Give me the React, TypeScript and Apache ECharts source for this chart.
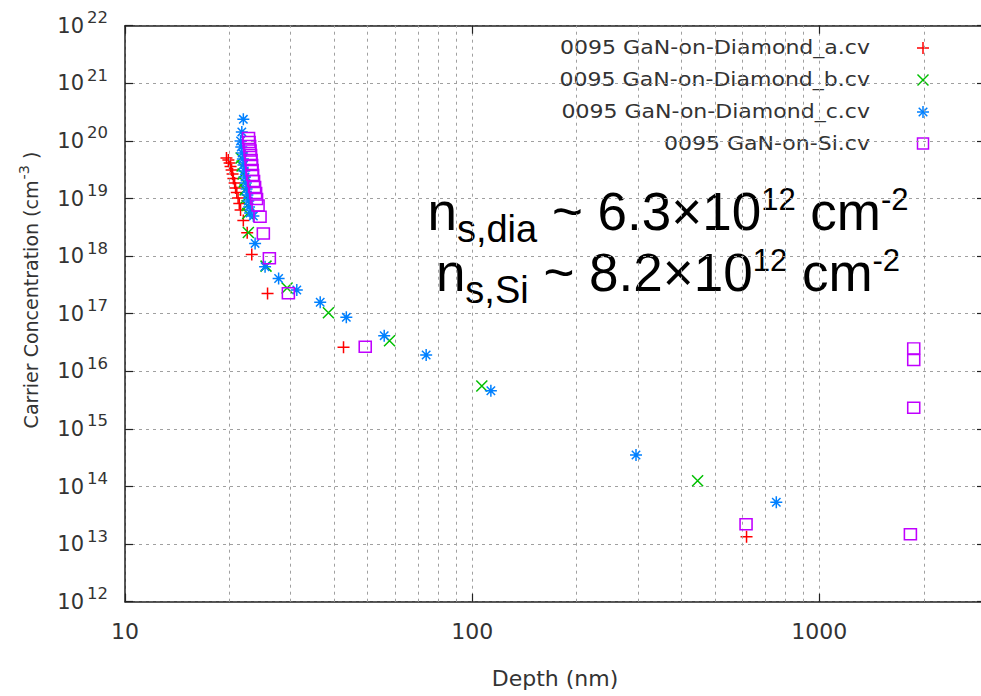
import React, { useEffect, useRef } from 'react';
import * as echarts from 'echarts';

const seriesNames = [
  '0095 GaN-on-Diamond_a.cv',
  '0095 GaN-on-Diamond_b.cv',
  '0095 GaN-on-Diamond_c.cv',
  '0095 GaN-on-Si.cv',
];
const seriesColors = ['#ff0000', '#00c000', '#0080ff', '#c000ff'];

const depthA = [19.6, 19.85, 20.01, 20.14, 20.28, 20.41, 20.52, 20.69, 20.82, 20.99, 21.17, 21.34, 21.52, 21.92, 22.49, 23.18, 25.74, 42.6, 617];
const concA = [5.05e19, 4.66e19, 4.13e19, 3.6e19, 3.13e19, 2.66e19, 2.22e19, 1.86e19, 1.52e19, 1.27e19, 1.02e19, 8.2e18, 6.3e18, 4.15e18, 2.55e18, 1.07e18, 2.24e17, 2.61e16, 1.34e13];

const depthB = [21.6, 21.74, 21.88, 22.03, 22.17, 22.32, 22.47, 22.57, 22.66, 25.48, 29.3, 38.54, 57.8, 106.6, 446];
const concB = [5.05e19, 3.67e19, 2.66e19, 1.93e19, 1.41e19, 1.02e19, 7.55e18, 5.5e18, 2.57e18, 6.7e17, 2.79e17, 1.04e17, 3.4e16, 5.56e15, 1.26e14];

const depthC = [21.92, 21.7, 21.52, 21.62, 21.74, 21.85, 21.95, 22.06, 22.17, 22.29, 22.4, 22.52, 22.65, 22.77, 22.92, 23.43, 23.7, 25.32, 27.7, 31.25, 36.5, 43.4, 55.8, 73.7, 113.2, 296.4, 751.6];
const concC = [2.37e20, 1.43e20, 9.96e19, 7.83e19, 6.17e19, 4.85e19, 3.82e19, 3.0e19, 2.36e19, 1.86e19, 1.46e19, 1.15e19, 9.06e18, 7.13e18, 5.6e18, 4.97e18, 1.66e18, 6.55e17, 4.08e17, 2.58e17, 1.58e17, 8.65e16, 4.15e16, 1.92e16, 4.6e15, 3.52e14, 5.32e13];

const depthD = [22.69, 22.77, 22.85, 22.92, 23.0, 23.08, 23.16, 23.23, 23.31, 23.46, 23.62, 23.78, 23.93, 24.17, 24.49, 25.03, 26.05, 29.55, 49.2, 615, 1870, 1870, 1870, 1829];
const concD = [1.12e20, 9.57e19, 8.15e19, 6.81e19, 5.69e19, 4.66e19, 3.82e19, 3.13e19, 2.56e19, 2.01e19, 1.58e19, 1.25e19, 9.8e18, 7.55e18, 4.83e18, 2.47e18, 9.16e17, 2.26e17, 2.67e16, 2.21e13, 2.5e16, 1.57e16, 2.33e15, 1.48e13];

const minorGridX = [20, 30, 40, 50, 60, 70, 80, 90, 200, 300, 400, 500, 600, 700, 800, 900, 2000];

const annotationLines = [
  '{n|n}{sub|s,dia}{m| ~ 6.3×10}{sup|12}{m| cm}{sup|-2}',
  '{n|n}{sub|s,Si}{m| ~ 8.2×10}{sup|12}{m| cm}{sup|-2}',
];

const SYM: Record<string, string> = {
  plus: 'path://M0,6L12,6M6,0L6,12',
  cross: 'path://M0,0L11,11M0,11L11,0',
  star: 'path://M0,6L12,6M6,0L6,12M1.8,1.8L10.2,10.2M1.8,10.2L10.2,1.8',
  square: 'path://M0,0L11,0L11,11L0,11Z',
};
const kinds = ['plus', 'cross', 'star', 'square'];
const symSizes: any[] = [12, 11, 12, [12, 11]];

const zip = (xs: number[], ys: number[]) => xs.map((x, i) => [x, ys[i]]);

const legendSegs: Record<string, number[][]> = {
  plus: [[-6, 0, 6, 0], [0, -6, 0, 6]],
  cross: [[-5.5, -5.5, 5.5, 5.5], [-5.5, 5.5, 5.5, -5.5]],
  star: [[-6, 0, 6, 0], [0, -6, 0, 6], [-4.3, -4.3, 4.3, 4.3], [-4.3, 4.3, 4.3, -4.3]],
};

function legendMarker(kind: string, cx: number, cy: number, color: string): any {
  if (kind === 'square') {
    return {
      type: 'rect', x: cx, y: cy, silent: true,
      shape: { x: -5.5, y: -5.5, width: 11, height: 11 },
      style: { fill: 'none', stroke: color, lineWidth: 1.5 },
    };
  }
  return {
    type: 'group', x: cx, y: cy, silent: true,
    children: legendSegs[kind].map((s) => ({
      type: 'line',
      shape: { x1: s[0], y1: s[1], x2: s[2], y2: s[3] },
      style: { stroke: color, lineWidth: 1.5 },
    })),
  };
}

export default function App() {
  const ref = useRef<HTMLDivElement>(null);
  useEffect(() => {
    const el = ref.current!;
    const chart = echarts.init(el, undefined, { renderer: 'svg' });
    const axisColor = '#222';
    const txtColor = '#333';
    const gridLine = { color: '#a0a0a0', type: [3, 4], width: 1 };
    const datasets = [zip(depthA, concA), zip(depthB, concB), zip(depthC, concC), zip(depthD, concD)];

    const series: any[] = datasets.map((d, i) => ({
      type: 'scatter',
      name: seriesNames[i],
      data: d,
      symbol: SYM[kinds[i]],
      symbolSize: symSizes[i],
      silent: true,
      itemStyle: { color: 'rgba(0,0,0,0)', borderColor: seriesColors[i], borderWidth: 1.5, opacity: 1 },
      z: 3 + i,
    }));
    series[0].markLine = {
      silent: true,
      symbol: ['none', 'none'],
      label: { show: false },
      lineStyle: gridLine,
      emphasis: { disabled: true },
      data: minorGridX.map((v) => ({ xAxis: v })),
    };

    const annRich: any = {
      n: { fontSize: 53, fontFamily: 'Liberation Sans', fill: '#000', lineHeight: 60 },
      sub: { fontSize: 38, fontFamily: 'Liberation Sans', fill: '#000', lineHeight: 60, padding: [36, 0, 0, 0] },
      m: { fontSize: 53, fontFamily: 'Liberation Sans', fill: '#000', lineHeight: 60 },
      sup: { fontSize: 31, fontFamily: 'Liberation Sans', fill: '#000', lineHeight: 60, padding: [0, 0, 23, 0] },
    };

    const legendYs = [48, 80, 112, 143.5];
    const graphics: any[] = [];
    seriesNames.forEach((name, i) => {
      graphics.push({
        type: 'text', x: 870, y: legendYs[i], scaleX: 1.16, silent: true,
        style: {
          text: name, fill: txtColor, fontSize: 19, fontFamily: 'DejaVu Sans',
          align: 'right', verticalAlign: 'middle', textAlign: 'right', textVerticalAlign: 'middle',
        },
      });
      graphics.push(legendMarker(kinds[i], 923, legendYs[i], seriesColors[i]));
    });
    const annYs = [211, 272];
    annotationLines.forEach((t, i) => {
      graphics.push({
        type: 'text', x: 668, y: annYs[i], silent: true,
        style: {
          text: t, rich: annRich, lineHeight: 60,
          align: 'center', verticalAlign: 'middle', textAlign: 'center', textVerticalAlign: 'middle',
        },
      });
    });
    graphics.push({
      type: 'text', x: 31, y: 290, rotation: Math.PI / 2, silent: true,
      style: {
        text: '{a|Carrier Concentration (cm}{s|-3}{a| )}',
        rich: {
          a: { fontSize: 19, fontFamily: 'DejaVu Sans', fill: txtColor, lineHeight: 22 },
          s: { fontSize: 14.5, fontFamily: 'DejaVu Sans', fill: txtColor, lineHeight: 22, padding: [0, 0, 14, 1] },
        },
        align: 'center', verticalAlign: 'middle', textAlign: 'center', textVerticalAlign: 'middle',
      },
    });

    const xBase: any = {
      type: 'log', logBase: 10, min: 10, max: 3000, interval: 1,
      axisLine: { show: true, lineStyle: { color: axisColor, width: 1.5 } },
      axisTick: { show: true, inside: true, length: 8, lineStyle: { color: axisColor, width: 1.2 } },
      minorTick: { show: false },
    };
    const yBase: any = {
      type: 'log', logBase: 10, min: 1e12, max: 1e22, interval: 1,
      axisLine: { show: true, lineStyle: { color: axisColor, width: 1.5 } },
      axisTick: { show: true, inside: true, length: 8, lineStyle: { color: axisColor, width: 1.2 } },
      minorTick: { show: false },
    };

    const option: any = {
      animation: false,
      grid: { left: 125, top: 25.7, width: 860, height: 576, containLabel: false, outerBoundsMode: 'none' },
      xAxis: [
        {
          ...xBase, position: 'bottom',
          axisLabel: {
            show: true, margin: 19, fontSize: 22, fontFamily: 'DejaVu Sans', color: txtColor,
            formatter: (v: number) => (v > 1500 ? '' : String(Math.round(v))),
          },
          splitLine: { show: true, lineStyle: gridLine },
          name: 'Depth (nm)', nameLocation: 'middle', nameGap: 66,
          nameTextStyle: { fontSize: 22, fontFamily: 'DejaVu Sans', color: txtColor },
        },
        { ...xBase, position: 'top', axisLabel: { show: false }, splitLine: { show: false } },
      ],
      yAxis: [
        {
          ...yBase, position: 'left',
          axisLabel: {
            show: true, margin: 17,
            formatter: (v: number) => `{b|10}{e|${Math.round(Math.log10(v))}}`,
            rich: {
              b: { fontSize: 21, fontFamily: 'DejaVu Sans', color: txtColor, lineHeight: 24 },
              e: { fontSize: 16.5, fontFamily: 'DejaVu Sans', color: txtColor, lineHeight: 24, padding: [0, 0, 16, 3] },
            },
          },
          splitLine: { show: true, lineStyle: gridLine },
        },
        { ...yBase, position: 'right', axisLabel: { show: false }, splitLine: { show: false } },
      ],
      series,
      graphic: { elements: graphics },
    };
    chart.setOption(option);
    return () => chart.dispose();
  }, []);
  return (
    <div
      ref={ref}
      style={{ position: 'fixed', left: 0, top: 0, width: 981, height: 696, background: '#fff' }}
    />
  );
}
